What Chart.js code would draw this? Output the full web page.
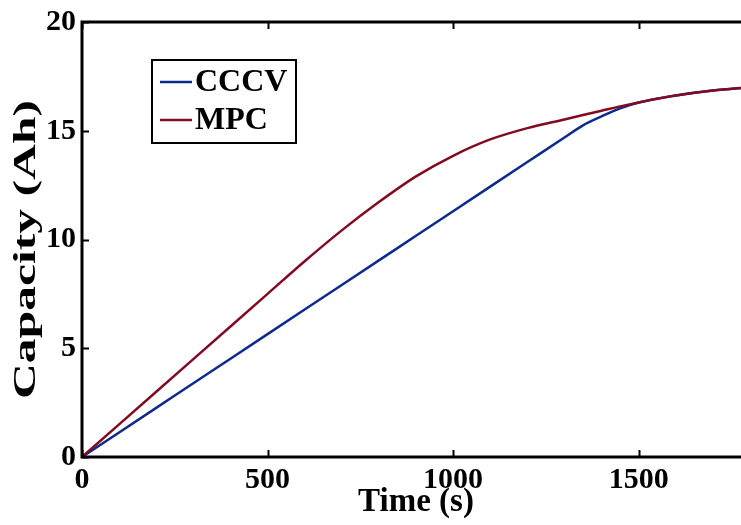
<!DOCTYPE html>
<html>
<head>
<meta charset="utf-8">
<script src="https://cdn.jsdelivr.net/npm/chart.js@4"></script>
<style>
body { margin: 0; background: #fff; overflow: hidden; }
#wrap { width: 762px; height: 525px; position: relative; }
</style>
</head>
<body>
<div id="wrap"><canvas id="chart_capacity"></canvas></div>
<script>
// charging time (s)
var times = [0, 100, 200, 300, 400, 500, 600, 700, 800, 900, 1000, 1100, 1200, 1300, 1350, 1400, 1450, 1500, 1600, 1700, 1800];
// capacity (Ah)
var cccv = [0, 1.13, 2.26, 3.39, 4.52, 5.65, 6.78, 7.91, 9.04, 10.17, 11.30, 12.43, 13.56, 14.69, 15.25, 15.66, 16.03, 16.3, 16.62, 16.85, 17.0];
var mpc = [0, 1.5, 3.0, 4.5, 6.0, 7.5, 9.0, 10.42, 11.72, 12.9, 13.85, 14.6, 15.12, 15.52, 15.72, 15.92, 16.12, 16.3, 16.62, 16.85, 17.0];
var x_ticks = [0, 500, 1000, 1500];
var y_ticks = [0, 5, 10, 15, 20];
var y_title = "Capacity (Ah)";

var font_name = "'Liberation Serif', 'Times New Roman', serif";

function to_points(xs, ys) {
        return xs.map(function(x, i) { return { x: x, y: ys[i] }; });
}

// box round the plot with inward ticks, legend and the (stretched) y label
var box_plugin = {
        id: "box_plugin",
        afterDatasetsDraw: function(chart) {
                var ctx = chart.ctx;
                var a = chart.chartArea;
                var xs = chart.scales.x;
                var ys = chart.scales.y;
                ctx.save();
                ctx.strokeStyle = "#000";
                ctx.lineWidth = 3;
                ctx.strokeRect(a.left, a.top, a.right - a.left, a.bottom - a.top);
                ctx.lineWidth = 2;
                ctx.beginPath();
                x_ticks.forEach(function(v) {
                        var px = Math.round(xs.getPixelForValue(v)) + 0.5;
                        ctx.moveTo(px, a.bottom); ctx.lineTo(px, a.bottom - 7);
                        ctx.moveTo(px, a.top); ctx.lineTo(px, a.top + 7);
                });
                y_ticks.forEach(function(v) {
                        var py = Math.round(ys.getPixelForValue(v)) + 0.5;
                        ctx.moveTo(a.left, py); ctx.lineTo(a.left + 7, py);
                        ctx.moveTo(a.right, py); ctx.lineTo(a.right - 7, py);
                });
                ctx.stroke();

                // legend box inside the plot
                var lx = a.left + 70, ly = a.top + 38;
                ctx.fillStyle = "#fff";
                ctx.fillRect(lx, ly, 144, 83);
                ctx.lineWidth = 2;
                ctx.strokeStyle = "#000";
                ctx.strokeRect(lx, ly, 144, 83);
                ctx.font = "bold 32px " + font_name;
                ctx.textBaseline = "middle";
                chart.data.datasets.forEach(function(ds, i) {
                        var ry = ly + 22 + i * 38;
                        ctx.strokeStyle = ds.borderColor;
                        ctx.lineWidth = 2.5;
                        ctx.beginPath();
                        ctx.moveTo(lx + 8, ry); ctx.lineTo(lx + 40, ry);
                        ctx.stroke();
                        ctx.fillStyle = "#000";
                        ctx.fillText(ds.label, lx + 43, ry + 1);
                });

                // y axis title, stretched along its length as in the original
                ctx.translate(27, (a.top + a.bottom) / 2 + 10);
                ctx.rotate(-Math.PI / 2);
                ctx.scale(1.6, 1);
                ctx.font = "bold 31px " + font_name;
                ctx.textAlign = "center";
                ctx.textBaseline = "middle";
                ctx.fillStyle = "#000";
                ctx.fillText(y_title, 0, 0);
                ctx.restore();
        }
};

new Chart("chart_capacity", {
        type: "line",
        data: {
                datasets: [{
                        label: "CCCV",
                        data: to_points(times, cccv),
                        borderColor: "#0d2a8e",
                        borderWidth: 2.5,
                        pointRadius: 0,
                        cubicInterpolationMode: "monotone",
                        fill: false,
                        order: 1
                }, {
                        label: "MPC",
                        data: to_points(times, mpc),
                        borderColor: "#820a22",
                        borderWidth: 2.5,
                        pointRadius: 0,
                        cubicInterpolationMode: "monotone",
                        fill: false,
                        order: 0
                }]
        },
        options: {
                responsive: true,
                maintainAspectRatio: false,
                animation: false,
                layout: { padding: { top: 22, right: 12, left: 0, bottom: 0 } },
                plugins: {
                        legend: { display: false },
                        tooltip: { enabled: false }
                },
                scales: {
                        x: {
                                type: "linear",
                                min: 0,
                                max: 1800,
                                afterFit: function(scale) { scale.height = 68; },
                                afterBuildTicks: function(scale) {
                                        scale.ticks = x_ticks.map(function(v) { return { value: v }; });
                                },
                                grid: { display: false, drawTicks: false },
                                border: { display: false },
                                ticks: {
                                        color: "#000",
                                        padding: 5,
                                        maxRotation: 0,
                                        callback: function(v) { return String(v); },
                                        font: { family: font_name, size: 30, weight: "bold" }
                                },
                                title: {
                                        display: true,
                                        text: "Time (s)",
                                        color: "#000",
                                        padding: { top: 0, bottom: 3 },
                                        font: { family: font_name, size: 33, weight: "bold" }
                                }
                        },
                        y: {
                                min: 0,
                                max: 20,
                                afterFit: function(scale) { scale.width = 82; },
                                afterBuildTicks: function(scale) {
                                        scale.ticks = y_ticks.map(function(v) { return { value: v }; });
                                },
                                grid: { display: false, drawTicks: false },
                                border: { display: false },
                                ticks: {
                                        color: "#000",
                                        padding: 6,
                                        callback: function(v) { return String(v); },
                                        font: { family: font_name, size: 30, weight: "bold", lineHeight: 1 }
                                },
                                title: { display: false }
                        }
                }
        },
        plugins: [box_plugin]
});
</script>
</body>
</html>
